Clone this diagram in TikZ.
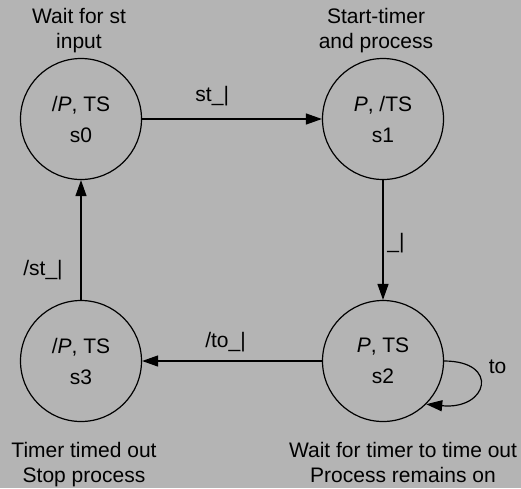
\documentclass[tikz,border=0pt]{standalone}
\usepackage{fontspec}
\setmainfont{Liberation Sans}
\usetikzlibrary{arrows.meta}
\definecolor{bg}{RGB}{180,180,180}
\begin{document}
\begin{tikzpicture}[x=1pt,y=-1pt,
  every node/.style={font=\fontsize{21}{25}\selectfont},
  state/.style={circle,draw,line width=1.2pt,minimum size=121pt,inner sep=0pt,align=center,font=\fontsize{21}{31}\selectfont},
  arr/.style={line width=1.2pt,-{Triangle[length=16pt,width=11pt]}},
  title/.style={inner sep=0pt,align=center}]
\fill[bg] (0,0) rectangle (521,488);
\useasboundingbox (0,0) rectangle (521,488);
\node[state] (s0) at (81,119) {/\textit{P}, TS\\s0};
\node[state] (s1) at (383,119) {\textit{P}, /TS\\s1};
\node[state] (s2) at (383,361) {\textit{P}, TS\\s2};
\node[state] (s3) at (81,361) {/\textit{P}, TS\\s3};
\draw[arr] (s0) -- node[pos=0.39,yshift=23pt] (l01) {st\_|} (s1);
\draw[arr] (s1) -- node[pos=0.525,xshift=13pt] (l12) {\_|} (s2);
\draw[arr] (s2) -- node[pos=0.536,yshift=19pt] (l23) {/to\_|} (s3);
\draw[arr] (s3) -- node[pos=0.25,xshift=-38pt] (l30) {/st\_|} (s0);
\draw[arr] (s2.0) .. controls +(56,0) and +(62,6) .. node[pos=0.3,xshift=21pt,yshift=5pt] (l22) {to} (s2.-45);
\node[title,anchor=south] (t0) at ([xshift=-2pt,yshift=5pt]s0.north) {Wait for st\\input};
\node[title,anchor=south] (t1) at ([xshift=-7pt,yshift=5pt]s1.north) {Start-timer\\and process};
\node[title,anchor=north] (t3) at ([xshift=3pt,yshift=-20pt]s3.south) {Timer timed out\\Stop process};
\node[title,anchor=north] (t2) at ([xshift=20pt,yshift=-20pt]s2.south) {Wait for timer to time out\\Process remains on};
\end{tikzpicture}
\end{document}
